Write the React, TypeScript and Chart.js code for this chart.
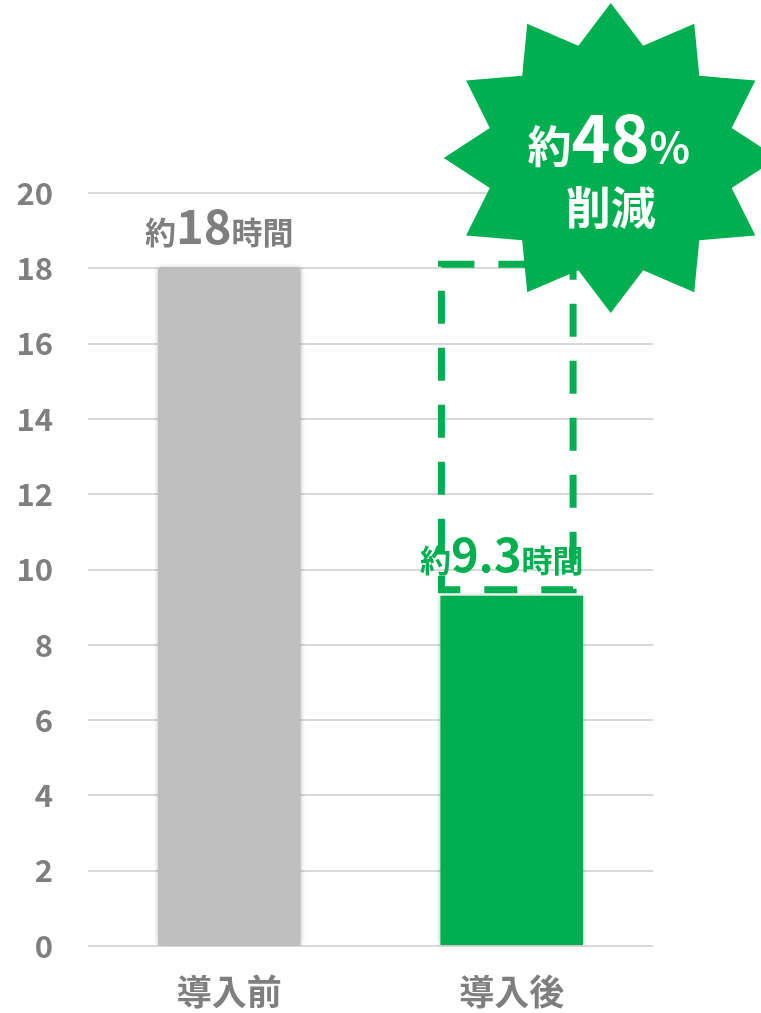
import { useEffect, useRef } from 'react';
import { Chart, registerables } from 'chart.js';

Chart.register(...registerables);

const categories = ['導入前', '導入後'];
const hours = [18, 9.3];
const hourLabels = ['18', '9.3'];
const barColors = ['#bfbfbf', '#00b050'];
const labelColors = ['#7f7f7f', '#00b050'];
const beforeHours = 18;
const approxPrefix = '約';
const hourUnit = '時間';
const reductionPercent = '48';
const reductionWord = '削減';
const yMin = 0;
const yMax = 20;
const yStep = 2;

const FONT = '"Noto Sans CJK JP", "Noto Sans", sans-serif';
const GRAY_TEXT = '#7f7f7f';
const GREEN = '#00b050';

type Part = { text: string; size: number };

function drawParts(ctx: CanvasRenderingContext2D, parts: Part[], cx: number, baseline: number, color: string) {
  const widths = parts.map((p) => {
    ctx.font = `bold ${p.size}px ${FONT}`;
    return ctx.measureText(p.text).width;
  });
  const total = widths.reduce((a, b) => a + b, 0);
  let x = cx - total / 2;
  ctx.textAlign = 'left';
  ctx.textBaseline = 'alphabetic';
  ctx.fillStyle = color;
  parts.forEach((p, i) => {
    ctx.font = `bold ${p.size}px ${FONT}`;
    ctx.fillText(p.text, x, baseline);
    x += widths[i];
  });
}

const shadowPlugin = {
  id: 'barShadow',
  beforeDatasetsDraw(chart: any) {
    const ctx = chart.ctx;
    ctx.save();
    ctx.shadowColor = 'rgba(0,0,0,0.3)';
    ctx.shadowBlur = 5;
    ctx.shadowOffsetX = 0;
    ctx.shadowOffsetY = 0;
  },
  afterDatasetsDraw(chart: any) {
    chart.ctx.restore();
  },
};

const overlayPlugin = {
  id: 'overlay',
  afterDraw(chart: any) {
    const ctx: CanvasRenderingContext2D = chart.ctx;
    const xs = chart.scales.x;
    const ys = chart.scales.y;
    const meta = chart.getDatasetMeta(0);

    // dashed box showing previous level on the "after" bar
    const afterBar = meta.data[1] as any;
    const half = afterBar.width / 2;
    const left = afterBar.x - half + 1;
    const right = afterBar.x + half - 10;
    const top = ys.getPixelForValue(beforeHours) - 4;
    const bottom = ys.getPixelForValue(hours[1]) - 6;
    ctx.save();
    ctx.strokeStyle = GREEN;
    ctx.lineWidth = 7;
    ctx.setLineDash([33, 24]);
    ctx.beginPath();
    ctx.moveTo(left, top);
    ctx.lineTo(right, top);
    ctx.lineTo(right, bottom);
    ctx.lineTo(left, bottom);
    ctx.closePath();
    ctx.stroke();
    ctx.restore();

    // value labels
    ctx.save();
    meta.data.forEach((bar: any, i: number) => {
      drawParts(
        ctx,
        [
          { text: approxPrefix, size: 31 },
          { text: hourLabels[i], size: 47 },
          { text: hourUnit, size: 31 },
        ],
        bar.x - 10,
        bar.y - 24,
        labelColors[i]
      );
    });
    ctx.restore();

    // starburst
    const cx = xs.getPixelForValue(1) + 99;
    const cy = ys.getPixelForValue(yMax) - 35;
    const rx = 167;
    const ry = 155;
    const inner = 0.75;
    const n = 12;
    ctx.save();
    ctx.fillStyle = GREEN;
    ctx.beginPath();
    for (let k = 0; k < n * 2; k++) {
      const a = -Math.PI / 2 + (k * Math.PI) / n;
      const f = k % 2 === 0 ? 1 : inner;
      const px = cx + Math.cos(a) * rx * f;
      const py = cy + Math.sin(a) * ry * f;
      if (k === 0) ctx.moveTo(px, py);
      else ctx.lineTo(px, py);
    }
    ctx.closePath();
    ctx.fill();
    drawParts(
      ctx,
      [
        { text: approxPrefix, size: 44 },
        { text: reductionPercent, size: 66 },
        { text: '%', size: 42 },
      ],
      cx - 2,
      cy + 5,
      '#ffffff'
    );
    drawParts(ctx, [{ text: reductionWord, size: 45 }], cx, cy + 67, '#ffffff');
    ctx.restore();
  },
};

export default function App() {
  const canvasRef = useRef<HTMLCanvasElement | null>(null);

  useEffect(() => {
    document.body.style.margin = '0';
    document.body.style.overflow = 'hidden';
    const canvas = canvasRef.current;
    if (!canvas) return;
    const chart = new Chart(canvas, {
      type: 'bar',
      data: {
        labels: categories,
        datasets: [
          {
            data: hours,
            backgroundColor: barColors,
            borderWidth: 0,
            barPercentage: 0.505,
            categoryPercentage: 1,
          },
        ],
      },
      options: {
        responsive: false,
        animation: false,
        devicePixelRatio: 1,
        layout: { padding: { top: 193, right: 108, left: 0, bottom: 0 } },
        plugins: {
          legend: { display: false },
          tooltip: { enabled: false },
        },
        scales: {
          x: {
            grid: { display: false, drawTicks: false },
            border: { display: false },
            ticks: {
              color: GRAY_TEXT,
              padding: 25,
              font: { family: FONT, size: 35, weight: 'bold' },
            },
            afterFit(scale: any) {
              scale.height = 67;
            },
          },
          y: {
            min: yMin,
            max: yMax,
            grid: { color: '#d9d9d9', lineWidth: 2, drawTicks: false },
            border: { display: false },
            ticks: {
              stepSize: yStep,
              color: GRAY_TEXT,
              padding: 35,
              font: { family: FONT, size: 31, weight: 'bold' },
            },
            afterFit(scale: any) {
              scale.width = 88;
            },
          },
        },
      },
      plugins: [shadowPlugin, overlayPlugin],
    });
    return () => chart.destroy();
  }, []);

  return (
    <div style={{ width: 761, height: 1013, position: 'relative', overflow: 'hidden' }}>
      <canvas ref={canvasRef} width={761} height={1013} style={{ display: 'block', width: 761, height: 1013 }} />
    </div>
  );
}
